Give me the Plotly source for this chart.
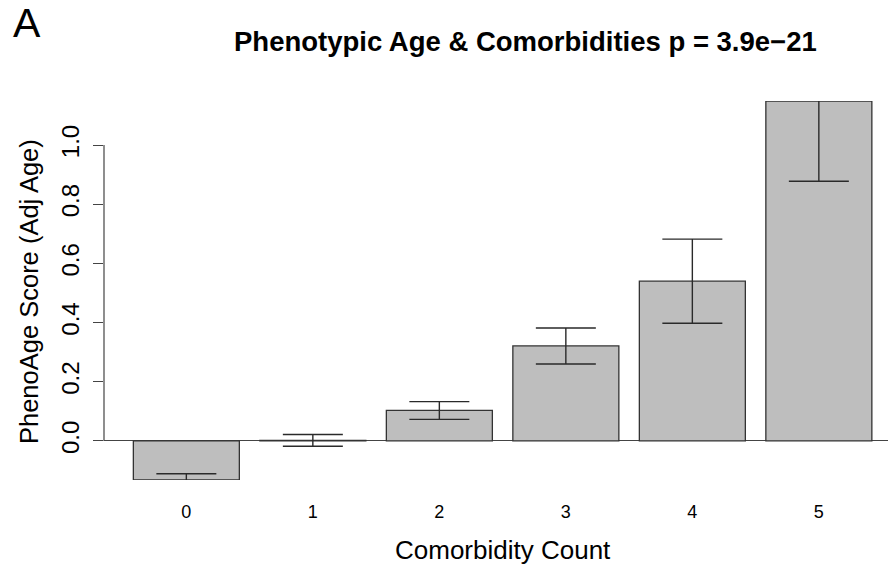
import plotly.graph_objects as go

categories = ["0", "1", "2", "3", "4", "5"]
means = [-0.132, 0.002, 0.103, 0.321, 0.540, 1.149]
errors = [0.021, 0.020, 0.030, 0.061, 0.142, 0.271]
ytick_vals = [0.0, 0.2, 0.4, 0.6, 0.8, 1.0]
ytick_text = ["0.0", "0.2", "0.4", "0.6", "0.8", "1.0"]

FONT = "Liberation Sans, Arial, Helvetica, sans-serif"
W, H = 888, 567
L, R, T, B = 104, 0, 101, 87
pw, ph = W - L - R, H - T - B

def px_x(x):
    return (x - L) / pw

def px_y(y):
    return (H - B - y) / ph

fig = go.Figure()
fig.add_trace(go.Bar(
    x=list(range(len(categories))), y=means,
    marker=dict(color="#BEBEBE", line=dict(color="#333333", width=1.3)),
    error_y=dict(type="data", array=errors, visible=True, color="#2a2a2a",
                 thickness=1.4, width=30),
    width=0.838,
))

fig.add_shape(type="line", xref="paper", yref="y", x0=0, x1=0,
              y0=ytick_vals[0], y1=ytick_vals[-1],
              line=dict(color="#444444", width=1.2))

fig.update_layout(
    width=W, height=H,
    margin=dict(l=L, r=R, t=T, b=B),
    paper_bgcolor="white", plot_bgcolor="white",
    showlegend=False,
    font=dict(family=FONT, color="black"),
    xaxis=dict(
        range=[-0.651, -0.651 + pw / 126.5],
        tickmode="array", tickvals=list(range(len(categories))), ticktext=categories,
        showgrid=False, zeroline=False, showline=False, ticks="",
        tickfont=dict(size=18, family=FONT), ticklabelstandoff=19,
    ),
    yaxis=dict(
        range=[min(means), max(means)],
        tickmode="array", tickvals=ytick_vals, ticktext=ytick_text,
        tickangle=-90, ticks="outside", ticklen=10, tickwidth=1.2, tickcolor="#444444",
        tickfont=dict(size=24, family=FONT), ticklabelstandoff=4,
        showgrid=False, showline=False,
        zeroline=True, zerolinecolor="#444444", zerolinewidth=1.2,
    ),
    annotations=[
        dict(text="<b>Phenotypic Age & Comorbidities p = 3.9e\u221221</b>",
             xref="paper", yref="paper", x=px_x(525), y=px_y(42),
             xanchor="center", yanchor="middle", showarrow=False,
             font=dict(size=27.5, family=FONT)),
        dict(text="A", xref="paper", yref="paper", x=px_x(11), y=px_y(23),
             xanchor="left", yanchor="middle", showarrow=False,
             font=dict(size=41, family=FONT)),
        dict(text="Comorbidity Count", xref="paper", yref="paper",
             x=px_x(502.6), y=px_y(550), xanchor="center", yanchor="middle",
             showarrow=False, font=dict(size=26, family=FONT)),
        dict(text="PhenoAge Score (Adj Age)", xref="paper", yref="paper",
             x=px_x(29), y=px_y(292), xanchor="center", yanchor="middle",
             textangle=-90, showarrow=False, font=dict(size=25.5, family=FONT)),
    ],
)

fig.write_html("out.html")
